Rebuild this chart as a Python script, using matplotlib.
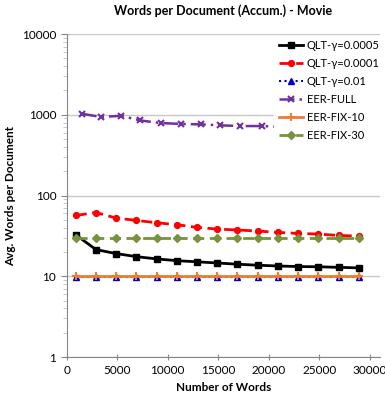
import matplotlib
matplotlib.use("Agg")
import matplotlib.pyplot as plt

# accumulated number of words (x) for each run
words = [900, 2900, 4900, 6900, 8900, 10900, 12900, 14900, 16900, 18900,
         20900, 22900, 24900, 26900, 28900]
words_full = [1500, 3400, 5400, 7300, 9300, 11300, 13300, 15200, 17200,
              19300, 21200, 23200, 25200, 27100]

qlt_0005 = [32.7, 21.4, 19.1, 17.5, 16.4, 15.6, 15.1, 14.6, 14.1, 13.7,
            13.4, 13.2, 13.1, 12.9, 12.7]
qlt_0001 = [56.6, 61.6, 52.6, 49.2, 46.0, 43.5, 40.3, 38.4, 37.4, 36.3,
            34.9, 33.9, 33.3, 32.0, 31.5]
qlt_01 = [9.8] * 15
eer_full = [1030, 940, 970, 850, 790, 770, 760, 740, 725, 725,
            710, 700, 690, 680]
eer_fix10 = [10] * 15
eer_fix30 = [30] * 15

plt.rcParams['font.family'] = ['Lato', 'DejaVu Sans']

fig = plt.figure(figsize=(3.85, 4.05), dpi=100)
ax = fig.add_axes([0.173, 0.1185, 0.814, 0.7975])

ax.plot(words, qlt_0005, color='black', ls='-', lw=2, marker='s', ms=4.2,
        label='QLT-γ=0.0005', zorder=3)
ax.plot(words, qlt_0001, color='#ff0000', ls=(0, (4, 2)), lw=2, marker='o', ms=4.2,
        label='QLT-γ=0.0001', zorder=3)
ax.plot(words, qlt_01, color='#0000cc', ls=':', lw=1.5, marker='^', ms=4.2,
        label='QLT-γ=0.01', zorder=3)
ax.plot(words_full, eer_full, color='#7030a0', ls=(0, (6, 2, 1, 2)), lw=1.8,
        marker='x', ms=4.5, mew=1.5, label='EER-FULL', zorder=3)
ax.plot(words, eer_fix10, color='#ed7d31', ls='-', lw=2, marker='+', ms=5.5, mew=1.5,
        label='EER-FIX-10', zorder=3)
ax.plot(words, eer_fix30, color='#77933c', ls=(0, (4, 2)), lw=2, marker='D', ms=4,
        label='EER-FIX-30', zorder=3)

ax.set_yscale('log')
ax.set_ylim(1, 10000)
ax.set_xlim(0, 31000)
ax.set_xticks([0, 5000, 10000, 15000, 20000, 25000, 30000])
ax.set_yticks([1, 10, 100, 1000, 10000])
ax.set_yticklabels(['1', '10', '100', '1000', '10000'])
ax.tick_params(axis='both', labelsize=8.5, color='#868686', length=4)
ax.tick_params(axis='y', which='minor', color='#bfbfbf', length=3)
ax.tick_params(axis='x', direction='inout', length=5)

ax.yaxis.grid(True, which='major', color='#c8c8c8', lw=1)
ax.set_axisbelow(True)
for s in ['top', 'right']:
    ax.spines[s].set_visible(False)
for s in ['left', 'bottom']:
    ax.spines[s].set_color('#868686')

ax.set_title('Words per Document (Accum.) - Movie', fontsize=9,
             fontweight='bold', pad=14)
ax.set_xlabel('Number of Words', fontsize=8.5, fontweight='bold')
ax.set_ylabel('Avg. Words per Document', fontsize=8.5, fontweight='bold')

leg = ax.legend(loc='upper right', bbox_to_anchor=(1.03, 1.012), fontsize=8,
                frameon=True, fancybox=False, handlelength=2.2,
                labelspacing=0.62, borderpad=0.4, handletextpad=0.3)
leg.get_frame().set_edgecolor('white')
leg.get_frame().set_facecolor('white')
leg.get_frame().set_alpha(1)
leg.set_zorder(5)

fig.savefig('out.png', dpi=100)
